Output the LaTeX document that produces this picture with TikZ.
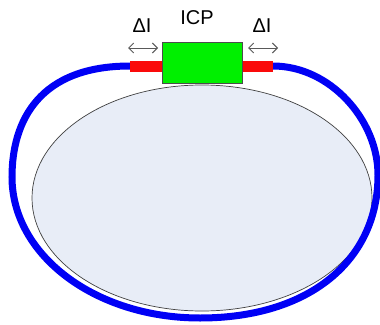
\documentclass[tikz,border=0pt]{standalone}
\usepackage{fontspec}
\setmainfont{Liberation Sans}
\usetikzlibrary{arrows.meta,calc}
\definecolor{plate}{RGB}{232,237,247}
\definecolor{fibblue}{RGB}{0,0,245}
\definecolor{fibred}{RGB}{250,10,10}
\definecolor{icpgreen}{RGB}{0,240,0}
\tikzset{
  lbl/.style={font=\fontsize{20}{24}\selectfont, inner sep=0pt},
  dl/.style={draw=gray!70!black, line width=1pt, {Straight Barb[length=5pt,width=10pt]}-{Straight Barb[length=5pt,width=10pt]}},
  fiber/.style={draw=fibblue, line width=7pt, line cap=round},
  stretch/.style={draw=fibred, line width=11pt},
  icpbox/.style={draw=black!70, fill=icpgreen, line width=0.8pt, minimum width=80pt, minimum height=41pt, inner sep=0pt}
}
\begin{document}
\begin{tikzpicture}[x=1pt,y=-1pt]
\useasboundingbox (0,0) rectangle (380,324);
% plate
\draw[fill=plate, draw=black!75, line width=0.7pt] (202,198) ellipse [x radius=170, y radius=113];
% fiber loop
\coordinate (L) at (130,66);
\coordinate (R) at (273,66);
\coordinate (W) at (12,177);
\coordinate (S) at (200,318);
\coordinate (E) at (378,175);
\draw[fiber] (L) .. controls (40,66) and (12,120) .. (W)
  .. controls (12,255) and (95,318) .. (S)
  .. controls (310,318) and (378,260) .. (E)
  .. controls (378,120) and (330,66) .. (R);
% box
\node[icpbox] (box) at (202,62.5) {};
\draw[stretch] (L) -- (box.west |- L);
\draw[stretch] (box.east |- R) -- (R);
\node[icpbox] at (box) {};
% labels
\node[lbl] (icp) at (197,18) {ICP};
\node[lbl] (dl1) at (142,26) {ΔI};
\node[lbl] (dl2) at (262,26) {ΔI};
\coordinate (a1) at (128,48);
\coordinate (a2) at (158,48);
\coordinate (b1) at (248,48);
\coordinate (b2) at (278,48);
\draw[dl] (a1) -- (a2);
\draw[dl] (b1) -- (b2);
\end{tikzpicture}
\end{document}
